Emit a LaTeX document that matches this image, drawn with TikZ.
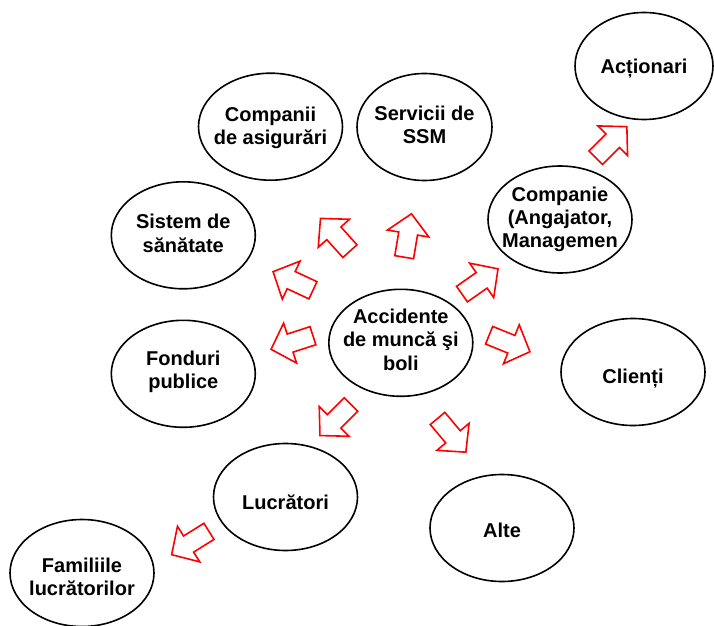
\documentclass[tikz,border=0pt]{standalone}
\usepackage{fontspec}
\setmainfont{Liberation Sans}
\usetikzlibrary{shapes.geometric}
\tikzset{
  oval/.style={ellipse, draw=black, line width=1.6pt, minimum width=#1, minimum height=107pt, inner sep=0pt},
  oval/.default=144pt,
  txt/.style={align=center, inner sep=0pt, font=\bfseries\fontsize{20}{23.2}\selectfont},
  blockarrow/.pic={\draw[red, line width=1.6pt, line join=miter, fill=white]
     (-22,-9.5) -- (2,-9.5) -- (2,-21) -- (22,0) -- (2,21) -- (2,9.5) -- (-22,9.5) -- cycle;}
}
\begin{document}
\begin{tikzpicture}[x=1pt,y=1pt]
\useasboundingbox (0,0) rectangle (714,625);
% ellipses
\node[oval] (acc) at (400.8,282.2) {};
\node[oval] (comp) at (270.5,498.3) {};
\node[oval=135pt] (serv) at (424.5,498) {};
\node[oval=138pt] (act) at (644,559) {};
\node[oval] (cie) at (560,405.5) {};
\node[oval] (sist) at (183.3,389.7) {};
\node[oval] (fond) at (183.3,251.2) {};
\node[oval] (cli) at (633,253) {};
\node[oval] (lucr) at (285.5,128) {};
\node[oval] (alte) at (502,97) {};
\node[oval] (fam) at (82,52) {};
% texts
\node[txt] (tacc) at ([yshift=3pt]acc.center) {Accidente\\de muncă şi\\boli};
\node[txt] (tcomp) at ([yshift=-1pt]comp.center) {Companii\\de asigurări};
\node[txt] (tserv) at ([yshift=2pt]serv.center) {Servicii de\\SSM};
\node[txt] (tact) at ([yshift=-3pt]act.center) {Acționari};
\node[txt] (tcie) at (cie.center) {Companie\\(Angajator,\\Managemen};
\node[txt] (tsist) at ([yshift=2pt]sist.center) {Sistem de\\sănătate};
\node[txt] (tfond) at ([yshift=2pt]fond.center) {Fonduri\\publice};
\node[txt] (tcli) at ([yshift=-7pt]cli.center) {Clienți};
\node[txt] (tlucr) at ([yshift=-5pt]lucr.center) {Lucrători};
\node[txt] (talte) at ([yshift=-2pt]alte.center) {Alte};
\node[txt] (tfam) at ([yshift=-4pt]fam.center) {Familiile\\lucrătorilor};
% block arrows
\pic[rotate=132] at (335.2,390.2) {blockarrow};
\pic[rotate=80.5] at (407.8,389.5) {blockarrow};
\pic[rotate=155] at (293,344) {blockarrow};
\pic[rotate=198] at (292,282.5) {blockarrow};
\pic[rotate=35] at (480,343.5) {blockarrow};
\pic[rotate=-22] at (509.5,281.5) {blockarrow};
\pic[rotate=225] at (335.5,205) {blockarrow};
\pic[rotate=-50] at (451.7,189.7) {blockarrow};
\pic[rotate=212] at (190.3,82) {blockarrow};
\pic[rotate=45] at (611.3,482.8) {blockarrow};
\end{tikzpicture}
\end{document}
